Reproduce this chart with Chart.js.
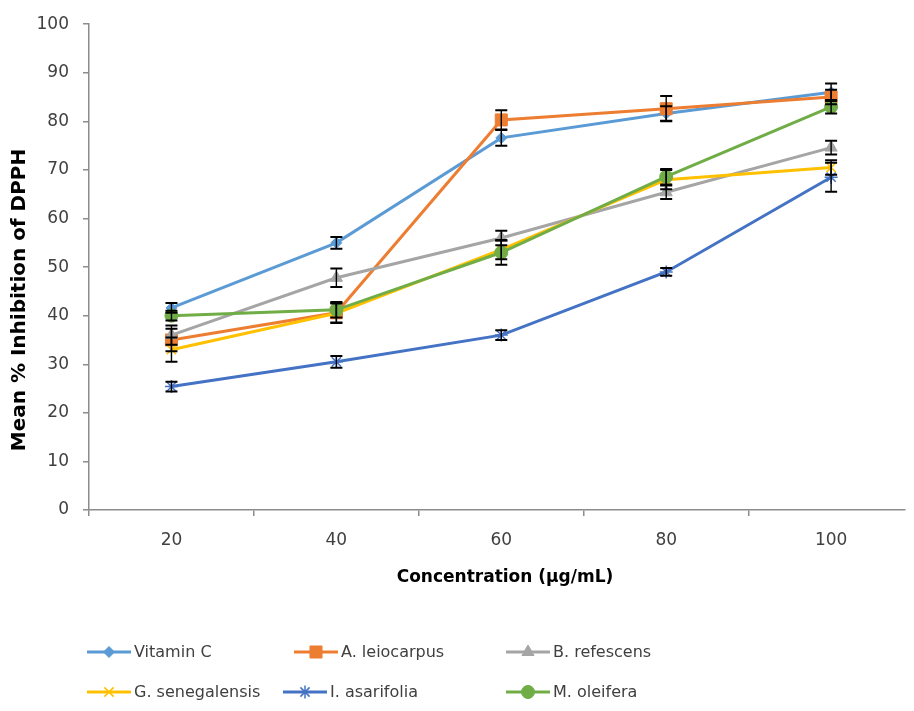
<!DOCTYPE html>
<html lang="en">
<head>
    <meta charset="UTF-8">
    <title>Mean % Inhibition of DPPH</title>
    <script src="https://cdn.jsdelivr.net/npm/chart.js"></script>
    <style>
        body {
            margin: 0;
            background: #fff;
        }
        #wrap {
            width: 914px;
            height: 711px;
        }
    </style>
</head>
<body>
    <div id="wrap"><canvas id="dpphChart" width="914" height="711"></canvas></div>

    <script>
        // concentrations (µg/mL) and labels on the x axis
        const concentrations = [20, 40, 60, 80, 100];
        const xTickLabels = ['20', '40', '60', '80', '100'];

        // mean % inhibition per extract
        const vitaminC = [41.6, 55.0, 76.6, 81.6, 86.0];
        const leiocarpus = [35.0, 40.6, 80.3, 82.6, 85.0];
        const refescens = [36.0, 47.8, 56.0, 65.4, 74.6];
        const senegalensis = [33.0, 40.5, 53.6, 68.0, 70.5];
        const asarifolia = [25.4, 30.5, 36.0, 49.0, 68.5];
        const oleifera = [40.0, 41.2, 53.0, 68.6, 83.0];

        // standard deviations (error bars)
        const vitaminCErr = [1.0, 1.2, 1.6, 1.5, 1.8];
        const leiocarpusErr = [2.3, 2.0, 2.0, 2.6, 1.5];
        const refescensErr = [2.0, 1.9, 1.5, 1.4, 1.4];
        const senegalensisErr = [2.5, 2.0, 2.0, 2.0, 1.5];
        const asarifoliaErr = [1.0, 1.2, 1.0, 0.8, 3.0];
        const oleiferaErr = [1.0, 1.6, 2.5, 1.6, 1.4];

        const seriesNames = ['Vitamin C', 'A. leiocarpus', 'B. refescens', 'G. senegalensis', 'I. asarifolia', 'M. oleifera'];

        const xTitle = 'Concentration (µg/mL)';
        const yTitle = 'Mean % Inhibition of DPPH';

        Chart.defaults.font.family = "'DejaVu Sans', sans-serif";
        Chart.defaults.color = '#404040';

        const axisGrey = '#8c8c8c';

        const makeSeries = (label, values, errors, color, pointStyle, radius, order) => ({
            label: label,
            data: values.map((v, i) => ({ x: concentrations[i], y: v })),
            errors: errors,
            borderColor: color,
            backgroundColor: color,
            borderWidth: 3,
            pointStyle: pointStyle,
            pointRadius: radius,
            pointBackgroundColor: color,
            pointBorderColor: color,
            pointBorderWidth: (pointStyle === 'crossRot' || pointStyle === 'star') ? 1.5 : 1,
            tension: 0,
            order: order,
        });

        const datasets = [
            makeSeries(seriesNames[0], vitaminC, vitaminCErr, '#5B9BD5', 'rectRot', 5.5, 6),
            makeSeries(seriesNames[1], leiocarpus, leiocarpusErr, '#ED7D31', 'rect', 8.5, 5),
            makeSeries(seriesNames[2], refescens, refescensErr, '#A5A5A5', 'triangle', 7, 4),
            makeSeries(seriesNames[3], senegalensis, senegalensisErr, '#FFC000', 'crossRot', 6.5, 3),
            makeSeries(seriesNames[4], asarifolia, asarifoliaErr, '#4472C4', 'star', 6.5, 2),
            makeSeries(seriesNames[5], oleifera, oleiferaErr, '#70AD47', 'circle', 6.5, 1),
        ];

        // black error bars with caps, drawn over the markers
        const errorBars = {
            id: 'errorBars',
            afterDatasetsDraw(chart) {
                const ctx = chart.ctx;
                const yScale = chart.scales.y;
                ctx.save();
                ctx.strokeStyle = '#000';
                chart.data.datasets.forEach((ds, i) => {
                    const meta = chart.getDatasetMeta(i);
                    meta.data.forEach((pt, j) => {
                        const v = ds.data[j].y;
                        const e = ds.errors[j];
                        const top = yScale.getPixelForValue(v + e);
                        const bottom = yScale.getPixelForValue(v - e);
                        ctx.lineWidth = 1.4;
                        ctx.beginPath();
                        ctx.moveTo(pt.x, top);
                        ctx.lineTo(pt.x, bottom);
                        ctx.stroke();
                        ctx.lineWidth = 2;
                        ctx.beginPath();
                        ctx.moveTo(pt.x - 6, top);
                        ctx.lineTo(pt.x + 6, top);
                        ctx.moveTo(pt.x - 6, bottom);
                        ctx.lineTo(pt.x + 6, bottom);
                        ctx.stroke();
                    });
                });
                ctx.restore();
            }
        };

        // axis titles, placed by hand (the y one sits a bit below the middle)
        const axisTitles = {
            id: 'axisTitles',
            afterDraw(chart) {
                const ctx = chart.ctx;
                ctx.save();
                ctx.fillStyle = '#000';
                ctx.textAlign = 'center';
                ctx.textBaseline = 'middle';

                ctx.font = "bold 17px 'DejaVu Sans', sans-serif";
                ctx.fillText(xTitle, 505, 578);

                ctx.translate(20, 300);
                ctx.rotate(-Math.PI / 2);
                ctx.font = "bold 20px 'DejaVu Sans', sans-serif";
                ctx.fillText(yTitle, 0, 0);
                ctx.restore();
            }
        };

        // legend in two rows: line sample with marker, then the name
        const legendSlots = [
            { x: 87, y: 652 }, { x: 294, y: 652 }, { x: 506, y: 652 },
            { x: 87, y: 692 }, { x: 283, y: 692 }, { x: 506, y: 692 },
        ];

        const lineLegend = {
            id: 'lineLegend',
            afterDraw(chart) {
                const ctx = chart.ctx;
                ctx.save();
                chart.data.datasets.forEach((ds, i) => {
                    const slot = legendSlots[i];
                    ctx.strokeStyle = ds.borderColor;
                    ctx.lineWidth = 3;
                    ctx.beginPath();
                    ctx.moveTo(slot.x, slot.y);
                    ctx.lineTo(slot.x + 44, slot.y);
                    ctx.stroke();
                    ctx.fillStyle = ds.pointBackgroundColor;
                    ctx.strokeStyle = ds.pointBorderColor;
                    ctx.lineWidth = ds.pointBorderWidth;
                    Chart.helpers.drawPoint(ctx, {
                        pointStyle: ds.pointStyle,
                        radius: ds.pointRadius,
                        rotation: 0,
                        borderWidth: ds.pointBorderWidth,
                    }, slot.x + 22, slot.y);
                    ctx.fillStyle = '#404040';
                    ctx.font = "16px 'DejaVu Sans', sans-serif";
                    ctx.textAlign = 'left';
                    ctx.textBaseline = 'middle';
                    ctx.fillText(ds.label, slot.x + 47, slot.y + 1);
                });
                ctx.restore();
            }
        };

        new Chart(document.getElementById('dpphChart'), {
            type: 'line',
            data: { datasets: datasets },
            options: {
                responsive: false,
                animation: false,
                events: [],
                layout: { padding: { top: 22, left: 0, right: 0, bottom: 0 } },
                plugins: {
                    legend: { display: false },
                    tooltip: { enabled: false },
                },
                scales: {
                    x: {
                        type: 'linear',
                        min: 10,
                        max: 108.9,
                        afterFit: (scale) => { scale.height = 201; },
                        afterBuildTicks: (scale) => {
                            scale.ticks = [10, 20, 30, 40, 50, 60, 70, 80, 90, 100].map(v => ({ value: v }));
                        },
                        ticks: {
                            autoSkip: false,
                            maxRotation: 0,
                            padding: 14,
                            font: { size: 17 },
                            callback: (value) => {
                                const i = concentrations.indexOf(value);
                                return i >= 0 ? xTickLabels[i] : '';
                            },
                        },
                        grid: {
                            drawOnChartArea: false,
                            tickLength: 6,
                            lineWidth: 1.5,
                            color: (ctx) => (ctx.tick && concentrations.includes(ctx.tick.value)) ? 'rgba(0,0,0,0)' : axisGrey,
                        },
                        border: { color: axisGrey, width: 1.5 },
                    },
                    y: {
                        min: 0,
                        max: 100,
                        afterFit: (scale) => { scale.width = 89; },
                        ticks: {
                            stepSize: 10,
                            padding: 14,
                            font: { size: 17 },
                        },
                        grid: {
                            drawOnChartArea: false,
                            tickLength: 6,
                            lineWidth: 1.5,
                            color: axisGrey,
                        },
                        border: { color: axisGrey, width: 1.5 },
                    },
                },
            },
            plugins: [errorBars, axisTitles, lineLegend],
        });
    </script>
</body>
</html>
